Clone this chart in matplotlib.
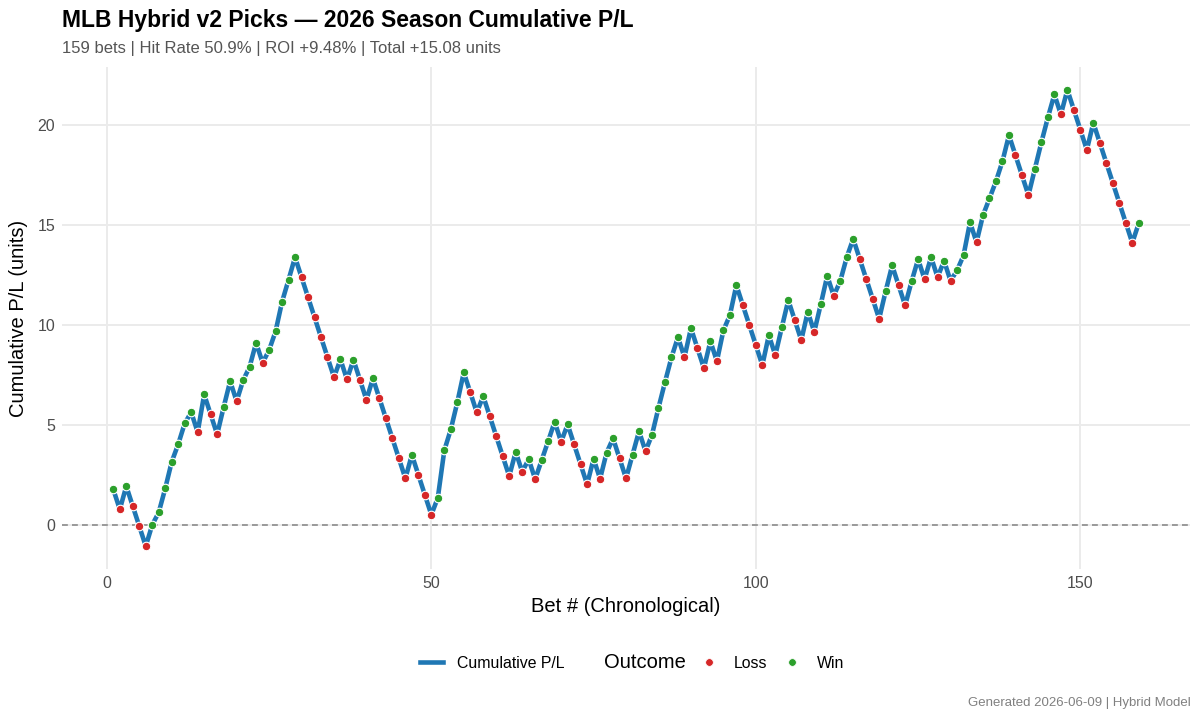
import numpy as np
import matplotlib
matplotlib.use("Agg")
import matplotlib.pyplot as plt
from matplotlib.lines import Line2D

plt.rcParams['font.family'] = ['Liberation Sans', 'DejaVu Sans']

# cumulative P/L after each bet
cum_pl = [
    1.77, 0.77, 1.93, 0.93, -0.07, -1.07, 0.00, 0.62, 1.82, 3.15,
    4.03, 5.07, 5.63, 4.63, 6.52, 5.52, 4.52, 5.88, 7.18, 6.18,
    7.22, 7.90, 9.10, 8.10, 8.73, 9.67, 11.15, 12.25, 13.38, 12.38,
    11.38, 10.38, 9.38, 8.38, 7.38, 8.27, 7.27, 8.25, 7.25, 6.25,
    7.32, 6.32, 5.32, 4.32, 3.32, 2.32, 3.50, 2.50, 1.50, 0.50,
    1.35, 3.72, 4.77, 6.12, 7.62, 6.62, 5.62, 6.43, 5.43, 4.43,
    3.43, 2.43, 3.65, 2.65, 3.28, 2.28, 3.23, 4.18, 5.15, 4.15,
    5.02, 4.02, 3.02, 2.02, 3.30, 2.30, 3.60, 4.32, 3.32, 2.32,
    3.50, 4.68, 3.68, 4.50, 5.85, 7.13, 8.37, 9.38, 8.38, 9.83,
    8.83, 7.83, 9.18, 8.18, 9.72, 10.48, 11.98, 10.98, 9.98, 8.98,
    7.98, 9.48, 8.48, 9.87, 11.23, 10.23, 9.23, 10.65, 9.65, 11.02,
    12.45, 11.45, 12.18, 13.37, 14.30, 13.30, 12.30, 11.30, 10.30, 11.68,
    12.97, 11.97, 10.97, 12.17, 13.28, 12.28, 13.38, 12.38, 13.20, 12.20,
    12.72, 13.47, 15.13, 14.13, 15.48, 16.32, 17.18, 18.18, 19.48, 18.48,
    17.48, 16.48, 17.80, 19.13, 20.37, 21.52, 20.52, 21.75, 20.75, 19.75,
    18.75, 20.10, 19.10, 18.10, 17.10, 16.10, 15.10, 14.10, 15.08,
]

# W = win, L = loss
outcome_str = (
    "WLWLLLWWWWWWWLWLLWWLWWWLWWWWWLLLLLLWLWLLWLLLLLWLLLWWWWWLLWLLLLWLWLWWWLWLLLWLWWLLWWLWWWWWLWLLWLWWWLLLLWLWWLLWLWWLWWWLLLLWWLLWWLWLWLWWWLWWWWWLLLWWWWLWLLLWLLLLLLW"
)
outcomes = ["Win" if c == "W" else "Loss" for c in outcome_str]

bet_num = np.arange(1, len(cum_pl) + 1)
cum_pl = np.array(cum_pl)

n_bets = len(cum_pl)
n_wins = sum(o == "Win" for o in outcomes)
total = cum_pl[-1]

blue = "#1f77b4"
red = "#d62728"
green = "#2ca02c"
grid_col = "#EBEBEB"
txt_grey = "#4D4D4D"

fig = plt.figure(figsize=(12, 7.2), dpi=100)
ax = fig.add_axes([0.0517, 0.2097, 0.94, 0.6972])

ax.axhline(0, color="#8c8c8c", lw=1.2, ls=(0, (3.5, 2.5)), zorder=1)
ax.plot(bet_num, cum_pl, color=blue, lw=3.3, zorder=2, solid_capstyle="round")

is_win = np.array([o == "Win" for o in outcomes])
ax.scatter(bet_num[~is_win], cum_pl[~is_win], s=38, color=red,
           edgecolor="white", linewidth=0.8, zorder=3)
ax.scatter(bet_num[is_win], cum_pl[is_win], s=38, color=green,
           edgecolor="white", linewidth=0.8, zorder=3)

span = bet_num.max() - bet_num.min()
ax.set_xlim(bet_num.min() - 0.05 * span, bet_num.max() + 0.05 * span)
yspan = cum_pl.max() - cum_pl.min()
ax.set_ylim(cum_pl.min() - 0.05 * yspan, cum_pl.max() + 0.05 * yspan)

ax.set_xticks([0, 50, 100, 150])
ax.set_yticks([0, 5, 10, 15, 20])
ax.grid(True, color=grid_col, lw=1.4)
ax.set_axisbelow(True)
for s in ax.spines.values():
    s.set_visible(False)
ax.tick_params(length=0, labelsize=11.5, labelcolor=txt_grey, pad=5)

ax.set_xlabel("Bet # (Chronological)", fontsize=14.5, va="center")
ax.set_ylabel("Cumulative P/L (units)", fontsize=14.5, va="center")
ax.xaxis.set_label_coords(0.5, -(606 - 569) / 502)
ax.yaxis.set_label_coords(-(62 - 18) / 1128, 0.5)

fig.text(0.0517, 1 - 20 / 720, "MLB Hybrid v2 Picks \u2014 2026 Season Cumulative P/L",
         fontsize=16.5, fontweight="bold", ha="left", va="center")
fig.text(0.0517, 1 - 48 / 720,
         f"{n_bets} bets | Hit Rate {100 * n_wins / n_bets:.1f}% | "
         f"ROI {100 * total / n_bets:+.2f}% | Total {total:+.2f} units",
         fontsize=12, color="#555555", ha="left", va="center")
fig.text(0.992, 1 - 703 / 720, "Generated 2026-06-09 | Hybrid Model",
         fontsize=9.5, color="#808080", ha="right", va="center")

# legend row along the bottom
leg_y = 1 - 663 / 720
common = dict(loc="center left", frameon=False, fontsize=11.4,
              borderpad=0, borderaxespad=0)
fig.legend(handles=[Line2D([], [], color=blue, lw=3.3)],
           labels=["Cumulative P/L"], bbox_to_anchor=(420 / 1200, leg_y),
           handlelength=1.46, handletextpad=0.89, **common)
fig.text(604 / 1200, leg_y, "Outcome", fontsize=14.5, ha="left", va="center")
fig.legend(handles=[Line2D([], [], ls="", marker="o", ms=5.5, color=red,
                           mec="white", mew=0.5)],
           labels=["Loss"], bbox_to_anchor=(701 / 1200, leg_y),
           handlelength=1.0, handletextpad=1.08, **common)
fig.legend(handles=[Line2D([], [], ls="", marker="o", ms=5.5, color=green,
                           mec="white", mew=0.5)],
           labels=["Win"], bbox_to_anchor=(784 / 1200, leg_y),
           handlelength=1.0, handletextpad=1.08, **common)

fig.savefig("out.png", dpi=100, facecolor="white")
